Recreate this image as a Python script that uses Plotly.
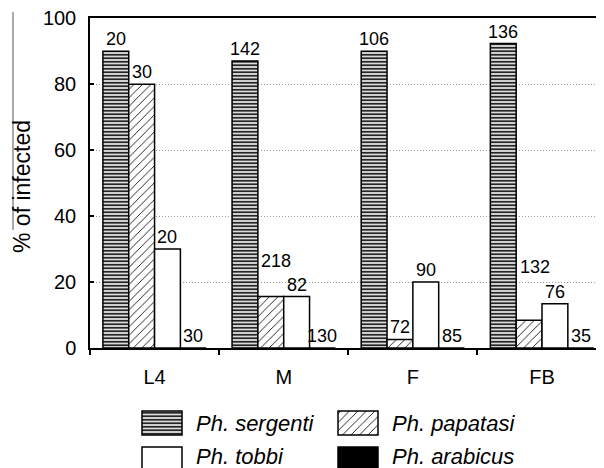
import plotly.graph_objects as go

categories = ["L4", "M", "F", "FB"]
species = ["Ph. sergenti", "Ph. papatasi", "Ph. tobbi", "Ph. arabicus"]
pct_sergenti = [90, 87, 90, 92.3]
pct_papatasi = [80, 15.6, 2.6, 8.4]
pct_tobbi = [30, 15.6, 20, 13.4]
pct_arabicus = [0, 0, 0, 0]
n_sergenti = [20, 142, 106, 136]
n_papatasi = [30, 218, 72, 132]
n_tobbi = [20, 82, 90, 76]
n_arabicus = [30, 130, 85, 35]
y_ticks = [0, 20, 40, 60, 80, 100]
y_title = "% of infected"

values = [pct_sergenti, pct_papatasi, pct_tobbi, pct_arabicus]
counts = [n_sergenti, n_papatasi, n_tobbi, n_arabicus]

FONT = "Liberation Sans, Arial, sans-serif"
OFF = 8                      # page body margin
SW, SH = 604, 468            # screen size
W, H = SW - OFF, SH - OFF    # figure size
ML, MT = 90 - OFF, 18 - OFF
PLOT_BOTTOM = 348 - OFF
pw = W - ML
ph = H - MT


def px_x(sx):
    return (sx - OFF - ML) / pw


def px_y(sy):
    return (SH - sy) / ph


patterns = [
    dict(shape="-", size=3.5, solidity=0.45, fgcolor="#111", bgcolor="#dcdcdc", fillmode="replace"),
    dict(shape="/", size=6, solidity=0.15, fgcolor="#111", bgcolor="white", fillmode="replace"),
    None,
    None,
]
fills = ["#dcdcdc", "white", "white", "black"]

fig = go.Figure()
for j, (name, vals) in enumerate(zip(species, values)):
    marker = dict(color=fills[j], line=dict(color="black", width=1.5))
    if patterns[j] is not None:
        marker["pattern"] = patterns[j]
    fig.add_trace(go.Bar(x=categories, y=vals, name=name, marker=marker,
                         showlegend=False, xaxis="x", yaxis="y"))

# count labels above bars
extra_shift = {(1, 1): (5, 24), (1, 3): (6, 41)}
anns = []
for j in range(4):
    for i in range(4):
        xs, ys = extra_shift.get((j, i), (0, 0))
        anns.append(dict(x=i + (j - 1.5) * 0.2, y=values[j][i], xref="x", yref="y",
                         text=str(counts[j][i]), showarrow=False, yanchor="bottom",
                         xanchor="center", yshift=ys, xshift=xs,
                         font=dict(family=FONT, size=18, color="black")))

# y-axis title
anns.append(dict(x=px_x(22), y=px_y(187), xref="paper", yref="paper", text=y_title,
                 textangle=-90, showarrow=False, xanchor="center", yanchor="middle",
                 font=dict(family=FONT, size=23, color="black")))

# custom legend on helper axes (screen-pixel units)
leg_x = [142, 338, 142, 338]
leg_base = [33, 33, -3, -3]
leg_text_y = [45, 45, 12, 12]
for j in range(4):
    marker = dict(color=fills[j], line=dict(color="black", width=1.5))
    if patterns[j] is not None:
        marker["pattern"] = patterns[j]
    fig.add_trace(go.Bar(x=[leg_x[j]], y=[24], base=[leg_base[j]], width=[40], offset=[0],
                         marker=marker, showlegend=False, xaxis="x2", yaxis="y2",
                         hoverinfo="skip"))
    anns.append(dict(x=leg_x[j] + 52, y=leg_text_y[j], xref="x2", yref="y2",
                     text=species[j], showarrow=False, xanchor="left", yanchor="middle",
                     font=dict(family=FONT, size=22, color="black", style="italic")))

ydom0 = (H - PLOT_BOTTOM) / ph
fig.update_layout(
    width=W, height=H,
    margin=dict(l=ML, r=0, t=MT, b=0, pad=0, autoexpand=False),
    paper_bgcolor="white", plot_bgcolor="white",
    barmode="group", bargap=0.2, bargroupgap=0,
    font=dict(family=FONT, size=20, color="black"),
    xaxis=dict(domain=[0, 1], type="category", range=[-0.5, 3.48], automargin=False,
               showline=True, mirror=True, linecolor="black", linewidth=1.5,
               ticks="outside", tickson="boundaries", ticklen=5, tickcolor="black",
               tickwidth=1.5, showgrid=False, ticklabelstandoff=10,
               tickfont=dict(family=FONT, size=20)),
    yaxis=dict(domain=[ydom0, 1], range=[0, 100.05], tickvals=y_ticks, automargin=False,
               showline=True, mirror="ticks", linecolor="black", linewidth=1.5,
               ticks="inside", ticklen=4, tickcolor="black", tickwidth=1.5,
               showgrid=True, gridcolor="#9a9a9a", griddash="1px,2px", gridwidth=1,
               zeroline=False, ticklabelstandoff=8, ticklabeloverflow="allow",
               tickfont=dict(family=FONT, size=20)),
    xaxis2=dict(domain=[0, 1], range=[ML + OFF, W + OFF], visible=False, anchor="y2"),
    yaxis2=dict(domain=[0, ydom0], range=[0, H - PLOT_BOTTOM], visible=False, anchor="x2"),
    annotations=anns,
    shapes=[dict(type="line", xref="paper", yref="paper",
                 x0=px_x(13), x1=px_x(13), y0=px_y(230), y1=px_y(12),
                 line=dict(color="#555", width=1))],
)
fig.write_html("out.html")
